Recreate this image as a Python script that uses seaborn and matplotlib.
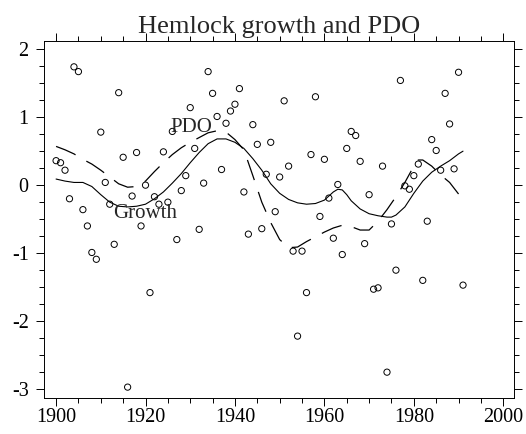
import matplotlib
matplotlib.use("Agg")
import matplotlib.pyplot as plt
import seaborn as sns
import pandas as pd
from matplotlib.ticker import MultipleLocator

# ---- data ----
years = list(range(1900, 1992))
growth_points = [0.36, 0.33, 0.22, -0.20, 1.74, 1.67, -0.36, -0.60, -0.99, -1.09,
                 0.78, 0.04, -0.28, -0.87, 1.36, 0.41, -2.97, -0.16, 0.48, -0.60,
                 0.00, -1.58, -0.17, -0.28, 0.49, -0.25, 0.79, -0.80, -0.08, 0.14,
                 1.14, 0.54, -0.65, 0.03, 1.67, 1.35, 1.01, 0.23, 0.91, 1.09,
                 1.19, 1.42, -0.10, -0.72, 0.89, 0.60, -0.64, 0.16, 0.63, -0.39,
                 0.12, 1.24, 0.28, -0.97, -2.22, -0.97, -1.58, 0.45, 1.30, -0.46,
                 0.38, -0.19, -0.78, 0.01, -1.02, 0.54, 0.79, 0.73, 0.35, -0.86,
                 -0.14, -1.53, -1.51, 0.28, -2.75, -0.57, -1.25, 1.54, -0.01, -0.06,
                 0.14, 0.31, -1.40, -0.53, 0.67, 0.51, 0.22, 1.35, 0.90, 0.24,
                 1.66, -1.47]

growth_smooth_years = [1900, 1902, 1904, 1906, 1908, 1910, 1912, 1914, 1916, 1918,
                       1920, 1922, 1924, 1926, 1928, 1930, 1932, 1934, 1936, 1938,
                       1940, 1942, 1944, 1946, 1948, 1950, 1952, 1954, 1956, 1958,
                       1960, 1962, 1963, 1964, 1965, 1966, 1968, 1970, 1972, 1974,
                       1975, 1976, 1978, 1980, 1982, 1984, 1986, 1988, 1990, 1991]
growth_smooth = [0.09, 0.06, 0.04, 0.04, -0.02, -0.14, -0.25, -0.31, -0.32, -0.31,
                 -0.28, -0.20, -0.10, 0.03, 0.17, 0.33, 0.48, 0.61, 0.68, 0.68,
                 0.63, 0.54, 0.39, 0.22, 0.02, -0.12, -0.21, -0.26, -0.28, -0.27,
                 -0.22, -0.10, -0.06, -0.07, -0.14, -0.23, -0.35, -0.42, -0.45, -0.47,
                 -0.47, -0.44, -0.32, -0.12, 0.06, 0.19, 0.28, 0.36, 0.46, 0.50]

pdo_years = [1900, 1902, 1904, 1906, 1908, 1910, 1912, 1914, 1916, 1918,
             1920, 1922, 1924, 1926, 1928, 1930, 1932, 1934, 1936, 1938,
             1940, 1942, 1943, 1944, 1946, 1948, 1950, 1952, 1954, 1956,
             1958, 1960, 1962, 1964, 1966, 1968, 1970, 1972, 1974, 1976,
             1978, 1980, 1981, 1982, 1984, 1986, 1988, 1990]
pdo_smooth = [0.57, 0.52, 0.46, 0.38, 0.31, 0.22, 0.12, 0.02, -0.03, -0.02,
              0.06, 0.20, 0.33, 0.45, 0.55, 0.63, 0.70, 0.77, 0.80, 0.78,
              0.67, 0.52, 0.33, 0.14, -0.25, -0.55, -0.80, -0.92, -0.91, -0.83,
              -0.76, -0.69, -0.63, -0.59, -0.61, -0.66, -0.66, -0.53, -0.36, -0.17,
              0.04, 0.28, 0.37, 0.37, 0.28, 0.15, 0.04, -0.13]

title = "Hemlock growth and PDO"
x_ticks = [1900, 1920, 1940, 1960, 1980, 2000]
y_ticks = [-3, -2, -1, 0, 1, 2]

# ---- style ----
sns.set_theme(style="ticks")
plt.rcParams["font.family"] = ["Liberation Serif", "DejaVu Serif"]
plt.rcParams["axes.unicode_minus"] = False

fig = plt.figure(figsize=(5.26, 4.34), dpi=100)
ax = fig.add_axes([44 / 526, 1 - 398 / 434, 470 / 526, 357 / 434])

pts = pd.DataFrame({"year": years, "value": growth_points})
sns.scatterplot(data=pts, x="year", y="value", ax=ax, marker="o", s=20,
                linewidth=0.7, legend=False)
coll = ax.collections[-1]
coll.set_facecolor("none")
coll.set_edgecolor("black")

sns.lineplot(x=growth_smooth_years, y=growth_smooth, ax=ax, color="black",
             linewidth=0.8, sort=False)
sns.lineplot(x=pdo_years, y=pdo_smooth, ax=ax, color="black",
             linewidth=0.9, sort=False)
ax.lines[-1].set_dashes((17, 10))

ax.text(1925.5, 0.78, "PDO", fontsize=15, ha="left", va="baseline")
ax.text(1912.8, -0.49, "Growth", fontsize=15, ha="left", va="baseline")

ax.set_xlim(1897.3, 2002.4)
ax.set_ylim(-3.13, 2.12)
ax.set_xticks(x_ticks)
ax.set_yticks(y_ticks)
ax.xaxis.set_minor_locator(MultipleLocator(5))
ax.yaxis.set_minor_locator(MultipleLocator(0.25))
ax.set_xlabel("")
ax.set_ylabel("")
ax.set_title(title, fontsize=19, pad=6)

ax.tick_params(which="both", direction="out", top=True, right=True,
               colors="black", width=0.7)
ax.tick_params(which="major", length=6)
ax.tick_params(which="minor", length=3.5)
ax.tick_params(axis="x", which="major", labelsize=14.5, pad=1.5)
ax.tick_params(axis="y", which="major", labelsize=14.5, pad=5)
for sp in ax.spines.values():
    sp.set_visible(True)
    sp.set_color("black")
    sp.set_linewidth(0.7)

fig.savefig("out.png", dpi=100)
